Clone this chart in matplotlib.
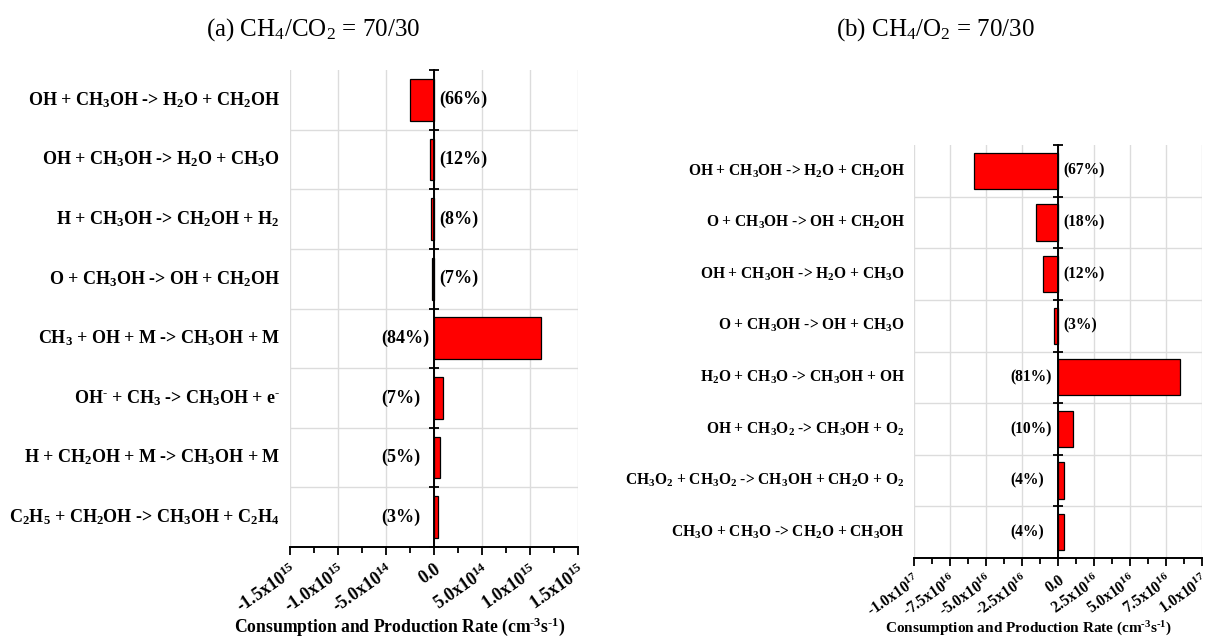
import matplotlib.pyplot as plt
from matplotlib.ticker import FixedLocator, MultipleLocator, NullFormatter
from matplotlib.transforms import blended_transform_factory

plt.rcParams['font.family'] = 'Liberation Serif'
plt.rcParams['mathtext.default'] = 'regular'

# (a) CH4/CO2 = 70/30
reactions_a = [
    'OH + CH$_3$OH -> H$_2$O + CH$_2$OH',
    'OH + CH$_3$OH -> H$_2$O + CH$_3$O',
    'H + CH$_3$OH -> CH$_2$OH + H$_2$',
    'O + CH$_3$OH -> OH + CH$_2$OH',
    'CH$_3$ + OH + M -> CH$_3$OH + M',
    'OH$^{\u2010}$ + CH$_3$ -> CH$_3$OH + e$^{\u2010}$',
    'H + CH$_2$OH + M -> CH$_3$OH + M',
    'C$_2$H$_5$ + CH$_2$OH -> CH$_3$OH + C$_2$H$_4$',
]
rates_a = [-2.47e14, -4.5e13, -3.0e13, -2.6e13, 1.11e15, 9.3e13, 6.6e13, 4.0e13]
shares_a = ['(66%)', '(12%)', '(8%)', '(7%)', '(84%)', '(7%)', '(5%)', '(3%)']
ticks_a = [-1.5e15, -1.0e15, -5.0e14, 0.0, 5.0e14, 1.0e15, 1.5e15]
ticklabels_a = ['-1.5x10$^{15}$', '-1.0x10$^{15}$', '-5.0x10$^{14}$', '0.0',
                '5.0x10$^{14}$', '1.0x10$^{15}$', '1.5x10$^{15}$']

# (b) CH4/O2 = 70/30
reactions_b = [
    'OH + CH$_3$OH -> H$_2$O + CH$_2$OH',
    'O + CH$_3$OH -> OH + CH$_2$OH',
    'OH + CH$_3$OH -> H$_2$O + CH$_3$O',
    'O + CH$_3$OH -> OH + CH$_3$O',
    'H$_2$O + CH$_3$O -> CH$_3$OH + OH',
    'OH + CH$_3$O$_2$ -> CH$_3$OH + O$_2$',
    'CH$_3$O$_2$ + CH$_3$O$_2$ -> CH$_3$OH + CH$_2$O + O$_2$',
    'CH$_3$O + CH$_3$O -> CH$_2$O + CH$_3$OH',
]
rates_b = [-5.83e16, -1.55e16, -1.03e16, -2.6e15, 8.47e16, 1.03e16, 4.4e15, 4.2e15]
shares_b = ['(67%)', '(18%)', '(12%)', '(3%)', '(81%)', '(10%)', '(4%)', '(4%)']
ticks_b = [-1.0e17, -7.5e16, -5.0e16, -2.5e16, 0.0, 2.5e16, 5.0e16, 7.5e16, 1.0e17]
ticklabels_b = ['-1.0x10$^{17}$', '-7.5x10$^{16}$', '-5.0x10$^{16}$', '-2.5x10$^{16}$',
                '0.0', '2.5x10$^{16}$', '5.0x10$^{16}$', '7.5x10$^{16}$', '1.0x10$^{17}$']

xlabel = 'Consumption and Production Rate (cm$^{\u20103}$s$^{\u20101}$)'
grid_color = '#dcdcdc'


def draw_panel(ax, reactions, rates, shares, ticks, ticklabels,
               share_x, name_x, fs, tick_fs):
    n = len(reactions)
    rows = list(range(n))
    ax.barh(rows, rates, height=0.7, color='#ff0000', edgecolor='black',
            linewidth=0.9, zorder=3)
    ax.set_ylim(n - 0.5, -0.5)
    ax.set_xlim(ticks[0], ticks[-1])

    # axes: bottom line plus a vertical line through zero
    for s in ('top', 'right'):
        ax.spines[s].set_visible(False)
    ax.spines['left'].set_position(('data', 0))
    ax.spines['left'].set_zorder(4)
    for s in ('left', 'bottom'):
        ax.spines[s].set_linewidth(1.4)

    ax.xaxis.set_major_locator(FixedLocator(ticks))
    ax.xaxis.set_minor_locator(MultipleLocator((ticks[1] - ticks[0]) / 2))
    ax.set_xticklabels(ticklabels, rotation=35, ha='right', va='top',
                       rotation_mode='anchor', fontsize=tick_fs,
                       fontweight='bold')
    ax.tick_params(axis='x', which='major', direction='out', length=6,
                   width=1.3, pad=4)
    ax.tick_params(axis='x', which='minor', direction='out', length=4,
                   width=1.3)
    ax.grid(axis='x', which='major', color=grid_color, linewidth=1, zorder=0)

    bounds = [r - 0.5 for r in rows] + [n - 0.5]
    ax.yaxis.set_major_locator(FixedLocator(bounds))
    ax.yaxis.set_major_formatter(NullFormatter())
    ax.tick_params(axis='y', which='major', direction='inout', length=7,
                   width=1.3)
    for b in bounds[1:-1]:
        ax.axhline(b, color=grid_color, linewidth=1, zorder=0)

    trans = blended_transform_factory(ax.transAxes, ax.transData)
    for r, name, rate, share in zip(rows, reactions, rates, shares):
        ax.text(name_x, r, name, transform=trans, ha='right', va='center',
                fontsize=fs, fontweight='bold')
        if rate < 0:
            ax.annotate(share, (0, r), xytext=(4, 0), textcoords='offset points',
                        ha='left', va='center', fontsize=fs, fontweight='bold')
        else:
            ax.text(share_x, r, share, ha='left', va='center', fontsize=fs,
                    fontweight='bold')


fig = plt.figure(figsize=(12.08, 6.39), dpi=100)
ax_a = fig.add_axes([290 / 1208, 1 - 547 / 639, 288 / 1208, 477 / 639])
ax_b = fig.add_axes([914 / 1208, 1 - 558 / 639, 288 / 1208, 413 / 639])

draw_panel(ax_a, reactions_a, rates_a, shares_a, ticks_a, ticklabels_a,
           share_x=-0.55e15, name_x=-0.035, fs=13, tick_fs=13)
draw_panel(ax_b, reactions_b, rates_b, shares_b, ticks_b, ticklabels_b,
           share_x=-3.33e16, name_x=-0.031, fs=11.2, tick_fs=11.2)

fig.text(313 / 1208, 1 - 30 / 639, '(a) CH$_4$/CO$_2$ = 70/30',
         ha='center', va='center', fontsize=18)
fig.text(935 / 1208, 1 - 30 / 639, '(b) CH$_4$/O$_2$ = 70/30',
         ha='center', va='center', fontsize=18)
fig.text(400 / 1208, 1 - 627 / 639, xlabel, ha='center', va='center',
         fontsize=12.7, fontweight='bold')
fig.text(1028 / 1208, 1 - 629 / 639, xlabel, ha='center', va='center',
         fontsize=11, fontweight='bold')

fig.savefig('out.png', dpi=100)
